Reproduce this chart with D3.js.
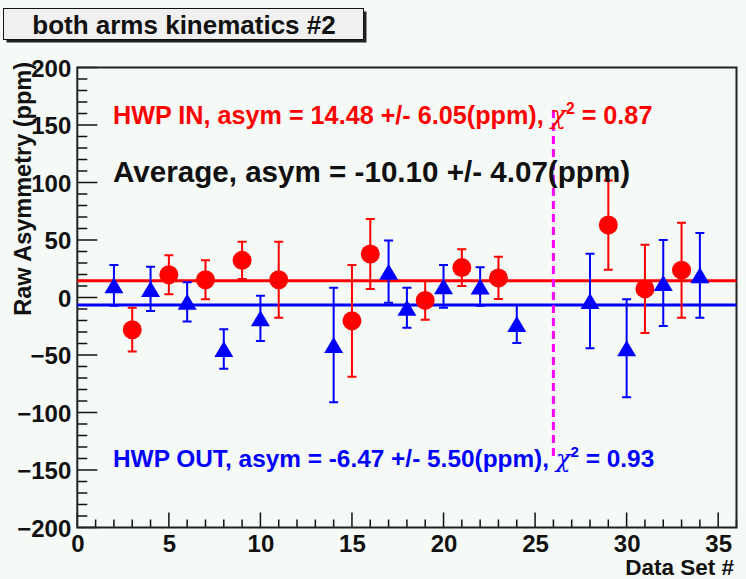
<!DOCTYPE html>
<html>
<head>
<meta charset="utf-8">
<script src="https://cdn.jsdelivr.net/npm/d3@7"></script>
<style>
  html, body { margin: 0; padding: 0; background: #f5faf6; }
  svg { display: block; font-family: "Liberation Sans", Arial, Helvetica, sans-serif; }
</style>
</head>
<body>
<svg id="chart" width="746" height="579"></svg>
<script>
// HWP IN data sets (red circles)
const inSets = [3, 5, 7, 9, 11, 15, 16, 19, 21, 23, 29, 31, 33];
const inAsym = [-28, 19.8, 15.4, 32.3, 15.5, -20.3, 37.8, -2.5, 26, 17, 63, 7.5, 23.8];
const inErr  = [19, 17, 17, 16.2, 33, 48.6, 30.4, 16.8, 16, 18.4, 38.8, 38.3, 41.3];

// HWP OUT data sets (blue triangles)
const outSets = [2, 4, 6, 8, 10, 14, 17, 18, 20, 22, 24, 28, 30, 32, 34];
const outAsym = [10.6, 7.5, -3.8, -44.8, -18.1, -41.3, 22.5, -8.9, 9.7, 9.6, -23, -3, -44.2, 12.6, 19.3];
const outErr  = [17.7, 19.3, 17, 17.1, 19.7, 49.8, 27, 17.4, 18.6, 16.7, 16.5, 41.1, 42.6, 37.4, 36.8];

// fit results
const inFit = 14.48;
const outFit = -6.47;
const dividerSet = 26;
const dividerRange = [163, -142];

const xTicks = [0, 5, 10, 15, 20, 25, 30, 35];
const yTicks = [-200, -150, -100, -50, 0, 50, 100, 150, 200];

const title = "both arms kinematics #2";
const xTitle = "Data Set #";
const yTitle = "Raw Asymmetry (ppm)";

const svg = d3.select("#chart");
const frameL = 77.3, frameR = 736.5, frameT = 67.5, frameB = 527.5;

const x = d3.scaleLinear().domain([0, 36]).range([frameL, frameR]);
const y = d3.scaleLinear().domain([-200, 200]).range([frameB, frameT]);

const RED = "#ff0000", BLUE = "#0000ff";

// title box with shadow
svg.append("rect").attr("x", 6.5).attr("y", 11.5).attr("width", 360).attr("height", 31).attr("fill", "#222");
svg.append("rect").attr("x", 3.5).attr("y", 8.5).attr("width", 360).attr("height", 31)
  .attr("fill", "#f0f0f0").attr("stroke", "#111").attr("stroke-width", 1);
svg.append("text").attr("x", 184).attr("y", 33.5).attr("text-anchor", "middle")
  .attr("font-size", 26).attr("font-weight", "bold").attr("fill", "#111").text(title);

// minor / major ticks drawn inside the frame
const g = svg.append("g");
const xMinor = d3.range(0, 37, 1);
g.selectAll(".xt").data(xMinor).join("line")
  .attr("x1", d => x(d)).attr("x2", d => x(d))
  .attr("y1", frameB).attr("y2", d => frameB - (d % 5 === 0 ? 15 : 8))
  .attr("stroke", "#111").attr("stroke-width", 1.5);
const yMinor = d3.range(-200, 201, 10);
g.selectAll(".yt").data(yMinor).join("line")
  .attr("y1", d => y(d)).attr("y2", d => y(d))
  .attr("x1", frameL).attr("x2", d => frameL + (d % 50 === 0 ? 20 : 10))
  .attr("stroke", "#111").attr("stroke-width", 1.5);

// tick labels via d3 axes (tick lines hidden, drawn above)
const xAxis = d3.axisBottom(x).tickValues(xTicks).tickSize(0).tickPadding(0);
svg.append("g").attr("transform", `translate(0,${frameB})`).call(xAxis)
  .call(a => a.select(".domain").remove())
  .selectAll("text").attr("dy", null).attr("y", 24.5)
  .attr("font-size", 24).attr("font-weight", "bold").attr("fill", "#111")
  .attr("font-family", "Liberation Sans, Arial, sans-serif");

const yAxis = d3.axisLeft(y).tickValues(yTicks).tickSize(0).tickPadding(0);
svg.append("g").attr("transform", `translate(${frameL},0)`).call(yAxis)
  .call(a => a.select(".domain").remove())
  .selectAll("text").attr("x", -6).attr("dy", "0.36em")
  .attr("font-size", 24).attr("font-weight", "bold").attr("fill", "#111")
  .attr("font-family", "Liberation Sans, Arial, sans-serif");

// frame
svg.append("rect").attr("x", frameL).attr("y", frameT).attr("width", frameR - frameL).attr("height", frameB - frameT)
  .attr("fill", "none").attr("stroke", "#222").attr("stroke-width", 2);

// axis titles
svg.append("text").attr("x", 734).attr("y", 574.5).attr("text-anchor", "end")
  .attr("font-size", 22.5).attr("font-weight", "bold").attr("fill", "#111").text(xTitle);
svg.append("text").attr("transform", "translate(31,62) rotate(-90)").attr("text-anchor", "end")
  .attr("font-size", 23.5).attr("font-weight", "bold").attr("fill", "#111").text(yTitle);

// fit lines
svg.append("line").attr("x1", frameL).attr("x2", frameR).attr("y1", y(inFit)).attr("y2", y(inFit))
  .attr("stroke", RED).attr("stroke-width", 3);
svg.append("line").attr("x1", frameL).attr("x2", frameR).attr("y1", y(outFit)).attr("y2", y(outFit))
  .attr("stroke", BLUE).attr("stroke-width", 3);

// divider between run periods
svg.append("line").attr("x1", x(dividerSet)).attr("x2", x(dividerSet))
  .attr("y1", y(dividerRange[0])).attr("y2", y(dividerRange[1]))
  .attr("stroke", "#ff00ff").attr("stroke-width", 3).attr("stroke-dasharray", "8,5");

// error bars + markers
function drawSeries(sets, vals, errs, color, shape) {
  const data = sets.map((s, i) => ({ s, v: vals[i], e: errs[i] }));
  const gg = svg.append("g");
  const cap = 4.5;
  gg.selectAll(".eb").data(data).join("path")
    .attr("d", d => {
      const cx = x(d.s), y1 = y(d.v + d.e), y2 = y(d.v - d.e);
      return `M${cx},${y1}V${y2}M${cx - cap},${y1}H${cx + cap}M${cx - cap},${y2}H${cx + cap}`;
    })
    .attr("stroke", color).attr("stroke-width", 2).attr("fill", "none");
  if (shape === "circle") {
    gg.selectAll(".mk").data(data).join("circle")
      .attr("cx", d => x(d.s)).attr("cy", d => y(d.v)).attr("r", 9.5).attr("fill", color);
  } else {
    gg.selectAll(".mk").data(data).join("path")
      .attr("d", d => {
        const cx = x(d.s), cy = y(d.v), hw = 9.5, hh = 8;
        return `M${cx},${cy - hh}L${cx + hw},${cy + hh}L${cx - hw},${cy + hh}Z`;
      })
      .attr("fill", color);
  }
}
drawSeries(inSets, inAsym, inErr, RED, "circle");
drawSeries(outSets, outAsym, outErr, BLUE, "triangle");

// fit result labels
function chiLabel(yPos, size, color, prefix, chi) {
  const t = svg.append("text").attr("x", 113).attr("y", yPos)
    .attr("font-size", size).attr("font-weight", "bold").attr("fill", color);
  t.append("tspan").text(prefix + ", ");
  t.append("tspan").attr("font-style", "italic").attr("font-family", "DejaVu Serif, serif")
    .attr("font-weight", "normal").text("\u03C7");
  t.append("tspan").attr("font-size", size * 0.62).attr("dy", -10).text("2");
  t.append("tspan").attr("dy", 10).text(" = " + chi);
}
chiLabel(124, 25.2, RED, "HWP IN, asym = 14.48 +/- 6.05(ppm)", "0.87");
svg.append("text").attr("x", 113).attr("y", 182).attr("font-size", 29.6).attr("font-weight", "bold")
  .attr("fill", "#111").text("Average, asym = -10.10 +/- 4.07(ppm)");
chiLabel(467, 24.4, BLUE, "HWP OUT, asym = -6.47 +/- 5.50(ppm)", "0.93");
</script>
</body>
</html>
